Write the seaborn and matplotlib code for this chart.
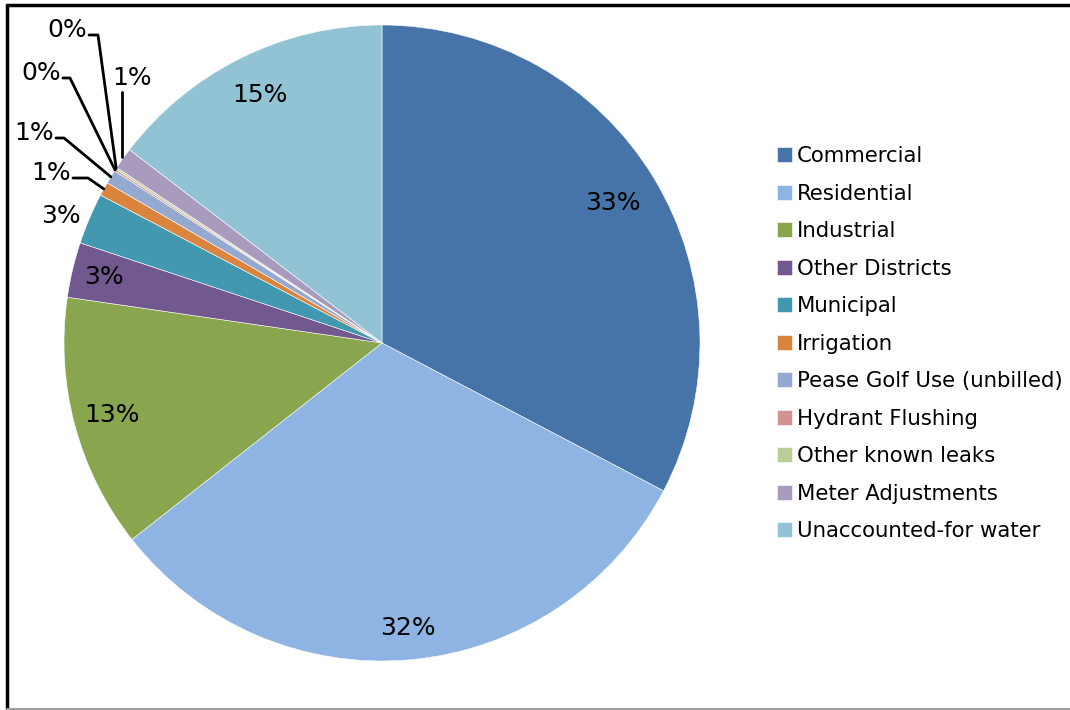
import numpy as np
import matplotlib
matplotlib.use("Agg")
import matplotlib.pyplot as plt
import seaborn as sns
from matplotlib.lines import Line2D

sns.set_theme(style="white")
plt.rcParams['font.family'] = ['DejaVu Sans']
plt.rcParams['text.color'] = 'black'

# Water use by category (percent of total)
categories = ["Commercial", "Residential", "Industrial", "Other Districts", "Municipal",
              "Irrigation", "Pease Golf Use (unbilled)", "Hydrant Flushing",
              "Other known leaks", "Meter Adjustments", "Unaccounted-for water"]
shares = [32.7, 31.7, 12.9, 2.8, 2.6, 0.7, 0.7, 0.1, 0.1, 1.1, 14.6]
colors = ["#4674A8", "#8EB4E3", "#89A54E", "#71588F", "#4198AF", "#DB843D",
          "#93A9CF", "#D19392", "#B9CD96", "#A99BBD", "#92C3D4"]

W, H = 1070, 710
fig = plt.figure(figsize=(W / 100, H / 100), dpi=100)
ax = fig.add_axes([0, 0, 1, 1])

cx, cy, R = 382, H - 343, 318
wedges, _ = ax.pie(shares, colors=colors, startangle=90, counterclock=False,
                   center=(cx, cy), radius=R, frame=True,
                   wedgeprops=dict(edgecolor="white", linewidth=0.4))
ax.set_xlim(0, W)
ax.set_ylim(0, H)
ax.set_aspect("equal")
ax.axis("off")

labels = [f"{round(v):d}%" for v in shares]
fs = 18

def mid_angle(w):
    return np.deg2rad((w.theta1 + w.theta2) / 2)

# Labels placed along the slice bisector
radial = {0: 0.85, 1: 0.90, 2: 0.88, 3: 0.90, 10: 0.87}
for i, r in radial.items():
    a = mid_angle(wedges[i])
    ax.text(cx + r * R * np.cos(a), cy + r * R * np.sin(a), labels[i],
            ha="center", va="center", fontsize=fs, color="black")

# Municipal label sits just outside its slice
ax.text(61, H - 216, labels[4], ha="center", va="center", fontsize=fs, color="black")

# Small slices: labels outside with leader lines (text end x, line y, elbow x)
callouts = {
    5: (71, 178, 88),
    6: (54, 138, 64),
    7: (61, 78, 70),
    8: (87, 35, 98),
}
for i, (tx, ty, ex) in callouts.items():
    a = mid_angle(wedges[i])
    px, py = cx + R * np.cos(a), cy + R * np.sin(a)
    ax.add_line(Line2D([tx + 2, ex, px], [H - ty, H - ty, py], color="black", lw=2))
    ax.text(tx, H - ty + 5, labels[i], ha="right", va="center", fontsize=fs, color="black")

# Meter Adjustments: vertical leader to label above
a = mid_angle(wedges[9])
px, py = cx + R * np.cos(a), cy + R * np.sin(a)
ax.add_line(Line2D([122, 122], [py + 2, H - 92], color="black", lw=2))
ax.text(132, H - 78, labels[9], ha="center", va="center", fontsize=fs, color="black")

ax.legend(wedges, categories, loc="upper left", bbox_to_anchor=(777, H - 146),
          bbox_transform=ax.transData, frameon=False, fontsize=15.3,
          handlelength=0.7, handleheight=0.7, handletextpad=0.25,
          labelspacing=0.825, borderpad=0, borderaxespad=0, labelcolor="black")

# Chart border
ax.add_line(Line2D([6.5, 6.5], [0, H - 5], color="black", lw=2.5, clip_on=False))
ax.add_line(Line2D([6.5, W + 5], [H - 5, H - 5], color="black", lw=2.5, clip_on=False))
ax.add_line(Line2D([6.5, W + 5], [1.5, 1.5], color="#A0A0A0", lw=1.5, clip_on=False))

fig.savefig("out.png", dpi=100)
